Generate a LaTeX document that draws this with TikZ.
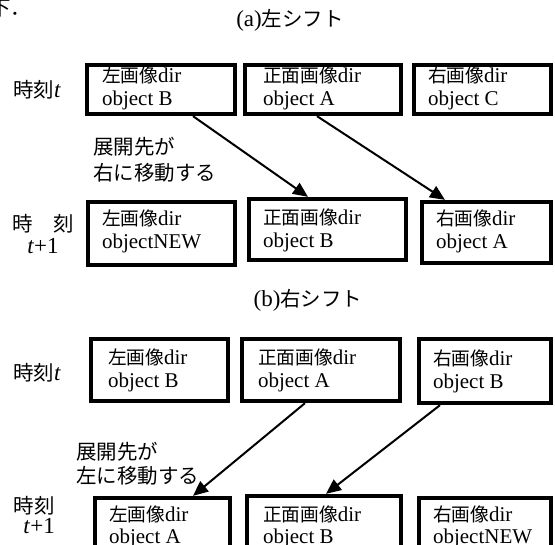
\documentclass[tikz,border=0pt]{standalone}
\usepackage{fontspec}
\setmainfont{Liberation Serif}
\newfontfamily\jp{Noto Sans CJK JP}[Scale=0.89]
\usetikzlibrary{arrows.meta,positioning}

\tikzset{
  dirbox/.style={draw=black, line width=3.8pt, fill=white, inner sep=0pt},
  dirtext/.style={anchor=west, inner sep=0pt, align=left, font=\fontsize{21}{23}\selectfont},
  rowlabel/.style={inner sep=0pt, font=\fontsize{23}{21}\selectfont},
  shiftarrow/.style={line width=2pt, -{Triangle[length=15pt,width=13pt]}},
}

\begin{document}
\begin{tikzpicture}[x=1pt,y=-1pt]
\useasboundingbox (0,0) rectangle (555,545);
\clip (0,0) rectangle (555,545);

\node[rowlabel] (cut) at (11,8) {\jp 下．};

% (a) left shift
\node[rowlabel] (titleA) at (290,20) {(a){\jp 左シフト}};
\node[rowlabel, anchor=west] (timeA0) at (13,90) {{\jp 時刻}\textit{t}};
\node[rowlabel, align=center, font=\fontsize{23}{22}\selectfont] (timeA1) at (43,234) {{\jp 時　刻}\\\textit{t}+1};

\node[dirbox, minimum width=148.5pt, minimum height=49.5pt] (ta1) at (161,89.5) {};
\node[dirbox, minimum width=156.5pt, minimum height=49.5pt] (ta2) at (323,89.5) {};
\node[dirbox, minimum width=137.5pt, minimum height=49.5pt] (ta3) at (482.5,89.5) {};
\node[dirtext, right=17pt of ta1.west, yshift=1pt] (ta1t) {{\jp 左画像}dir\\object B};
\node[dirtext, right=20pt of ta2.west, yshift=1pt] (ta2t) {{\jp 正面画像}dir\\object A};
\node[dirtext, right=16pt of ta3.west, yshift=1pt] (ta3t) {{\jp 右画像}dir\\object C};

\node[dirbox, minimum width=147.5pt, minimum height=63.5pt] (ba1) at (161.5,233.5) {};
\node[dirbox, minimum width=157.5pt, minimum height=61.5pt] (ba2) at (327.5,229.5) {};
\node[dirbox, minimum width=129.5pt, minimum height=61.5pt] (ba3) at (486.5,232.5) {};
\node[dirtext, right=16pt of ba1.west, yshift=2pt] (ba1t) {{\jp 左画像}dir\\objectNEW};
\node[dirtext, right=16pt of ba2.west, yshift=-1pt] (ba2t) {{\jp 正面画像}dir\\object B};
\node[dirtext, right=16pt of ba3.west, yshift=1pt] (ba3t) {{\jp 右画像}dir\\object A};

\node[rowlabel, anchor=west, align=left, font=\fontsize{23}{26}\selectfont\jp] (noteA) at (93,160) {展開先が\\右に移動する};

\draw[shiftarrow] ([xshift=32pt]ta1.south) -- ([xshift=-19.5pt]ba2.north);
\draw[shiftarrow] ([xshift=-6pt]ta2.south) -- ([xshift=-41.5pt]ba3.north);

% (b) right shift
\node[rowlabel] (titleB) at (308,300) {(b){\jp 右シフト}};
\node[rowlabel, anchor=west] (timeB0) at (13,373) {{\jp 時刻}\textit{t}};
\node[rowlabel, anchor=east, align=right, font=\fontsize{23}{20}\selectfont] (timeB1) at (55,515) {{\jp 時刻}\\\textit{t}+1};

\node[dirbox, minimum width=137.5pt, minimum height=62.5pt] (tb1) at (159.5,370) {};
\node[dirbox, minimum width=158.5pt, minimum height=62.5pt] (tb2) at (321,370) {};
\node[dirbox, minimum width=132.5pt, minimum height=64.5pt] (tb3) at (485,371) {};
\node[dirtext, right=19pt of tb1.west] (tb1t) {{\jp 左画像}dir\\object B};
\node[dirtext, right=18pt of tb2.west] (tb2t) {{\jp 正面画像}dir\\object A};
\node[dirtext, right=16pt of tb3.west] (tb3t) {{\jp 右画像}dir\\object B};

\node[dirbox, minimum width=135.5pt, minimum height=70.5pt] (bb1) at (162.5,533) {};
\node[dirbox, minimum width=154.5pt, minimum height=72.5pt] (bb2) at (324,532) {};
\node[dirbox, minimum width=132.5pt, minimum height=70.5pt] (bb3) at (485,533) {};
\node[dirtext, right=16pt of bb1.west, yshift=6pt, font=\fontsize{21}{22}\selectfont] (bb1t) {{\jp 左画像}dir\\object A};
\node[dirtext, right=18pt of bb2.west, yshift=5pt, font=\fontsize{21}{22}\selectfont] (bb2t) {{\jp 正面画像}dir\\object B};
\node[dirtext, right=16pt of bb3.west, yshift=6pt, font=\fontsize{21}{22}\selectfont] (bb3t) {{\jp 右画像}dir\\objectNEW};

\node[rowlabel, anchor=west, align=left, font=\fontsize{23}{24}\selectfont\jp] (noteB) at (76,463.5) {展開先が\\左に移動する};

\draw[shiftarrow] ([xshift=-16pt]tb2.south) -- ([xshift=30.5pt]bb1.north);
\draw[shiftarrow] ([xshift=-45pt]tb3.south) -- ([xshift=2pt]bb2.north);
\end{tikzpicture}
\end{document}
